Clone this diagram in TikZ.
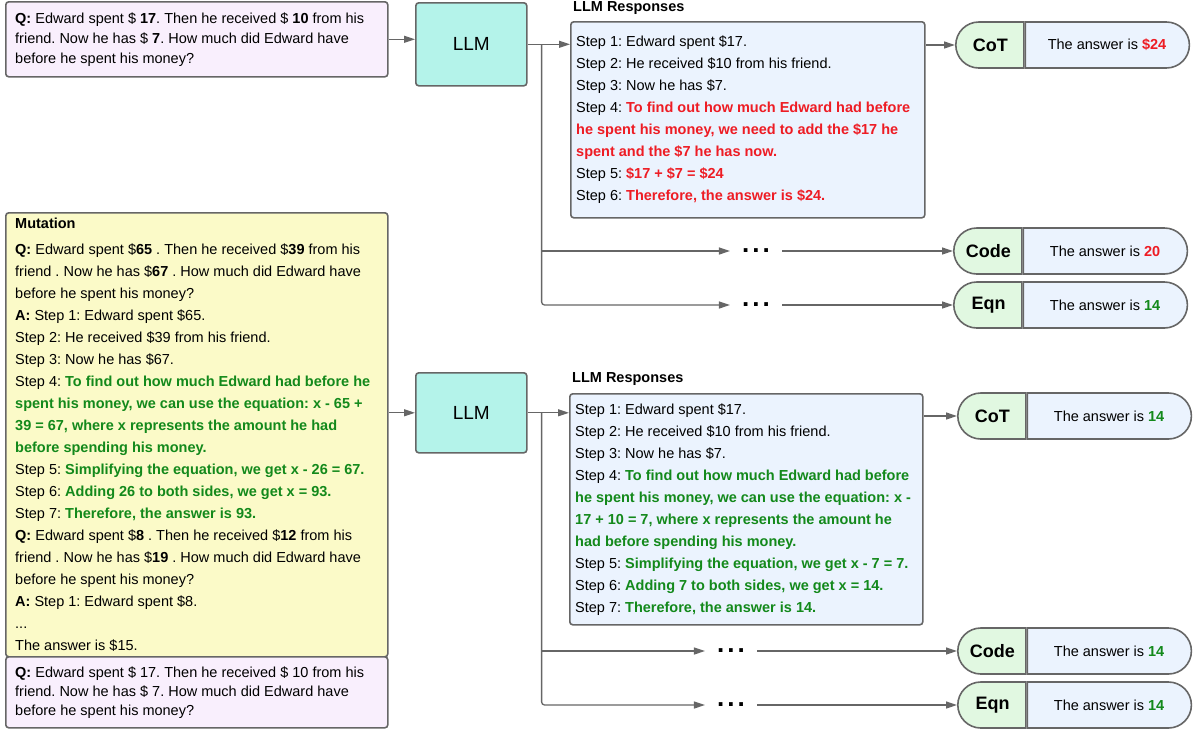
\documentclass[tikz,border=0pt]{standalone}
\usepackage{fontspec}
\setmainfont{Liberation Sans}
\usetikzlibrary{positioning}
\usetikzlibrary{arrows.meta}
\usetikzlibrary{shapes.misc}

\definecolor{edgegray}{HTML}{666666}
\definecolor{qpurple}{HTML}{F9EFFD}
\definecolor{llmteal}{HTML}{B4F3EA}
\definecolor{respblue}{HTML}{EBF3FE}
\definecolor{mutyellow}{HTML}{FBFAC8}
\definecolor{taggreen}{HTML}{E1F8E1}
\definecolor{wrongred}{HTML}{EE1C24}
\definecolor{rightgreen}{HTML}{13891B}

\newcommand{\redb}[1]{\textcolor{wrongred}{\textbf{#1}}}
\newcommand{\greenb}[1]{\textcolor{rightgreen}{\textbf{#1}}}
\frenchspacing

\begin{document}
\begin{tikzpicture}[x=1pt,y=-1pt,
  panel/.style={draw=edgegray,line width=1.6pt,rounded corners=3pt,anchor=north west,inner sep=0pt},
  txt/.style={align=left,inner sep=0pt,font=\fontsize{14.5}{22}\selectfont},
  conn/.style={draw=edgegray,line width=1.3pt,-{Triangle[length=11pt,width=7pt]}},
  tagbox/.style={rounded rectangle,rounded rectangle right arc=none,draw=edgegray,line width=1.6pt,fill=taggreen,minimum width=68pt,minimum height=46pt,inner sep=0pt,anchor=west,font=\fontsize{18}{20}\selectfont\bfseries},
  ansbox/.style={rounded rectangle,rounded rectangle left arc=none,draw=edgegray,line width=1.6pt,fill=respblue,minimum width=164pt,minimum height=46pt,inner sep=0pt,font=\fontsize{14.5}{18}\selectfont},
  gapdots/.style={inner xsep=12pt,inner ysep=0pt,font=\fontsize{26}{28}\selectfont\bfseries}]
\useasboundingbox (0,0) rectangle (1194,729);

\node[panel,fill=qpurple,minimum width=382pt,minimum height=75pt] (q1) at (5,1) {};
\node[txt,font=\fontsize{14.5}{20}\selectfont,right=10pt of q1.west] {\textbf{Q:} Edward spent \$ \textbf{17}. Then he received \$ \textbf{10} from his\\friend. Now he has \$ \textbf{7}. How much did Edward have\\before he spent his money?};
\node[panel,fill=llmteal,minimum width=111pt,minimum height=83pt,font=\fontsize{19}{22}\selectfont] (llm1) at (415,2) {LLM};
\draw[conn] (q1.east) -- (q1.east -| llm1.west);

\node[txt,font=\fontsize{14.5}{18}\selectfont\bfseries,anchor=west] (title1) at (573,8) {LLM Responses};
\node[panel,fill=respblue,minimum width=354pt,minimum height=196pt] (resp1) at (570,21) {};
\node[txt,right=6pt of resp1.west] {Step 1: Edward spent \$17.\\
Step 2: He received \$10 from his friend.\\
Step 3: Now he has \$7.\\
Step 4: \redb{To find out how much Edward had before}\\
\redb{he spent his money, we need to add the \$17 he}\\
\redb{spent and the \$7 he has now.}\\
Step 5: \redb{\$17 + \$7 = \$24}\\
Step 6: \redb{Therefore, the answer is \$24.}};
\draw[conn] (llm1.east) -- (llm1.east -| resp1.west);
\coordinate (fork1) at ([xshift=14pt]llm1.east);

\node[tagbox] (cot1) at (955,45) {CoT};
\node[ansbox,right=0pt of cot1] (cot1ans) {The answer is \redb{\$24}};
\node[tagbox] (code1) at (953,251) {Code};
\node[ansbox,right=0pt of code1] (code1ans) {The answer is \redb{20}};
\node[tagbox] (eqn1) at (953,305) {Eqn};
\node[ansbox,right=0pt of eqn1] (eqn1ans) {The answer is \greenb{14}};
\draw[conn] (resp1.east |- cot1.west) -- (cot1.west);

\node[gapdots] (dots1a) at (756,251) {.\hspace{3pt}.\hspace{3pt}.};
\node[gapdots] (dots1b) at (756,305) {.\hspace{3pt}.\hspace{3pt}.};
\draw[conn] (fork1 |- dots1a) -- (dots1a.west);
\draw[conn,rounded corners=3pt] (fork1) |- (dots1b.west);
\draw[conn] (dots1a.east) -- (code1.west);
\draw[conn] (dots1b.east) -- (eqn1.west);

\node[panel,fill=mutyellow,minimum width=382pt,minimum height=444pt] (mut) at (5,212) {};
\node[txt,right=10pt of mut.west] {\textbf{Mutation}\\[4pt]
\textbf{Q:} Edward spent \$\textbf{65} . Then he received \$\textbf{39} from his\\
friend . Now he has \$\textbf{67} . How much did Edward have\\
before he spent his money?\\
\textbf{A:} Step 1: Edward spent \$65.\\
Step 2: He received \$39 from his friend.\\
Step 3: Now he has \$67.\\
Step 4: \greenb{To find out how much Edward had before he}\\
\greenb{spent his money, we can use the equation: x - 65 +}\\
\greenb{39 = 67, where x represents the amount he had}\\
\greenb{before spending his money.}\\
Step 5: \greenb{Simplifying the equation, we get x - 26 = 67.}\\
Step 6: \greenb{Adding 26 to both sides, we get x = 93.}\\
Step 7: \greenb{Therefore, the answer is 93.}\\
\textbf{Q:} Edward spent \$\textbf{8} . Then he received \$\textbf{12} from his\\
friend . Now he has \$\textbf{19} . How much did Edward have\\
before he spent his money?\\
\textbf{A:} Step 1: Edward spent \$8.\\
...\\
The answer is \$15.};
\node[panel,fill=qpurple,minimum width=382pt,minimum height=71pt] (q2) at (5,656) {};
\node[txt,font=\fontsize{14.5}{19}\selectfont,right=10pt of q2.west] {\textbf{Q:} Edward spent \$ 17. Then he received \$ 10 from his\\friend. Now he has \$ 7. How much did Edward have\\before he spent his money?};

\node[panel,fill=llmteal,minimum width=111pt,minimum height=80pt,font=\fontsize{19}{22}\selectfont] (llm2) at (415,372) {LLM};
\draw[conn] (mut.east |- llm2.west) -- (llm2.west);

\node[txt,font=\fontsize{14.5}{18}\selectfont\bfseries,anchor=west] (title2) at (572,379) {LLM Responses};
\node[panel,fill=respblue,minimum width=353pt,minimum height=231pt] (resp2) at (569,393) {};
\node[txt,right=6pt of resp2.west] {Step 1: Edward spent \$17.\\
Step 2: He received \$10 from his friend.\\
Step 3: Now he has \$7.\\
Step 4: \greenb{To find out how much Edward had before}\\
\greenb{he spent his money, we can use the equation: x -}\\
\greenb{17 + 10 = 7, where x represents the amount he}\\
\greenb{had before spending his money.}\\
Step 5: \greenb{Simplifying the equation, we get x - 7 = 7.}\\
Step 6: \greenb{Adding 7 to both sides, we get x = 14.}\\
Step 7: \greenb{Therefore, the answer is 14.}};
\draw[conn] (llm2.east) -- (llm2.east -| resp2.west);
\coordinate (fork2) at ([xshift=14pt]llm2.east);

\node[tagbox] (cot2) at (957,416) {CoT};
\node[ansbox,right=0pt of cot2] (cot2ans) {The answer is \greenb{14}};
\node[tagbox] (code2) at (957,651) {Code};
\node[ansbox,right=0pt of code2] (code2ans) {The answer is \greenb{14}};
\node[tagbox] (eqn2) at (957,705) {Eqn};
\node[ansbox,right=0pt of eqn2] (eqn2ans) {The answer is \greenb{14}};
\draw[conn] (resp2.east |- cot2.west) -- (cot2.west);

\node[gapdots] (dots2a) at (731,651) {.\hspace{3pt}.\hspace{3pt}.};
\node[gapdots] (dots2b) at (731,705) {.\hspace{3pt}.\hspace{3pt}.};
\draw[conn] (fork2 |- dots2a) -- (dots2a.west);
\draw[conn,rounded corners=3pt] (fork2) |- (dots2b.west);
\draw[conn] (dots2a.east) -- (code2.west);
\draw[conn] (dots2b.east) -- (eqn2.west);
\end{tikzpicture}
\end{document}
